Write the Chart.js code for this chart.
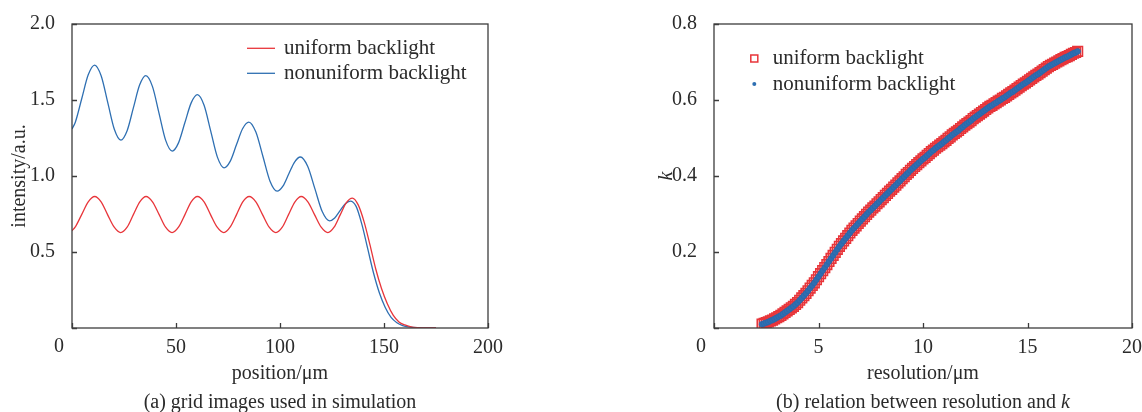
<!DOCTYPE html>
<html>
<head>
<meta charset="utf-8">
<script src="https://cdn.jsdelivr.net/npm/chart.js@4/dist/chart.umd.min.js"></script>
<style>
  html, body { margin: 0; padding: 0; background: #fff; }
  #wrap { position: relative; width: 1142px; height: 412px; overflow: hidden; }
  .panel { position: absolute; top: 0; width: 571px; height: 412px; }
  .caption { position: absolute; top: 390px; width: 500px; text-align: center;
             font: 20px "Liberation Serif", serif; color: #2b2b2b; line-height: 22px; }
</style>
</head>
<body>
<div id="wrap">
  <div class="panel" style="left:0"><canvas id="gridChart" width="571" height="412"></canvas></div>
  <div class="panel" style="left:571px"><canvas id="kChart" width="571" height="412"></canvas></div>
  <div class="caption" style="left:30px">(a) grid images used in simulation</div>
  <div class="caption" style="left:673px">(b) relation between resolution and <i>k</i></div>
</div>
<script>
// (a) intensity profiles along position
const posUniform = [0, 1.5, 4.65, 7.8, 10.9, 14.0, 17.1, 20.3, 23.4, 26.5, 29.5, 32.6, 35.6, 38.7, 41.9, 45.0,
  48.1, 51.2, 54.3, 57.3, 60.3, 63.5, 66.6, 69.8, 73.0, 76.0, 79.1, 82.1, 85.2, 88.4, 91.6, 94.8, 98.0,
  101.1, 104.1, 107.2, 110.2, 113.4, 116.6, 119.8, 123.0, 126.0, 129.0, 131.9, 134.8, 137.6, 140.4, 143.2,
  146.0, 148.8, 151.6, 154.4, 157.2, 160, 163, 166, 170, 175];
const uniformIntensity = [0.64, 0.663, 0.746, 0.83, 0.865, 0.83, 0.746, 0.663, 0.628, 0.663, 0.746, 0.83, 0.865,
  0.83, 0.746, 0.663, 0.628, 0.663, 0.746, 0.83, 0.865, 0.83, 0.746, 0.663, 0.628, 0.663, 0.746, 0.83, 0.865,
  0.83, 0.746, 0.663, 0.628, 0.663, 0.746, 0.83, 0.865, 0.83, 0.746, 0.663, 0.628, 0.663, 0.746, 0.825, 0.855,
  0.81, 0.70, 0.55, 0.39, 0.26, 0.16, 0.085, 0.04, 0.02, 0.008, 0.003, 0.001, 0];

const posNonuniform = [0, 1.6, 4.7, 7.8, 10.9, 14.05, 17.2, 20.35, 23.5, 26.5, 29.5, 32.5, 35.5, 38.7, 41.85, 45.0,
  48.2, 51.2, 54.25, 57.3, 60.3, 63.5, 66.7, 69.9, 73.1, 76.1, 79.05, 82.0, 85.0, 88.4, 91.8, 95.2, 98.6,
  101.4, 104.2, 107.0, 109.8, 113.3, 116.8, 120.3, 123.8, 126.3, 128.8, 131.3, 133.8, 136.6, 139.4, 142.2,
  145.0, 147.8, 150.6, 153.4, 156.2, 159, 162, 166, 170, 175];
const nonuniformIntensity = [1.31, 1.354, 1.51, 1.666, 1.73, 1.658, 1.483, 1.308, 1.236, 1.298, 1.448, 1.598, 1.66,
  1.588, 1.412, 1.236, 1.164, 1.218, 1.35, 1.481, 1.535, 1.465, 1.295, 1.124, 1.054, 1.098, 1.205, 1.311, 1.355,
  1.289, 1.128, 0.966, 0.90, 0.933, 1.013, 1.092, 1.125, 1.064, 0.915, 0.766, 0.705, 0.724, 0.77, 0.816, 0.835,
  0.80, 0.68, 0.52, 0.36, 0.23, 0.135, 0.07, 0.035, 0.016, 0.007, 0.002, 0.0005, 0];

// (b) k versus resolution (both backlights fall on the same curve)
const resolution = [
  2.3, 2.4, 2.5, 2.6, 2.7, 2.8, 2.9, 3.0, 3.1, 3.2, 3.3, 3.4, 3.5, 3.6, 3.7, 3.8, 3.9,
  4.0, 4.1, 4.2, 4.3, 4.4, 4.5, 4.6, 4.7, 4.8, 4.9, 5.0, 5.1, 5.2, 5.3, 5.4, 5.5, 5.6, 5.7, 5.8, 5.9,
  6.0, 6.1, 6.2, 6.3, 6.4, 6.5, 6.6, 6.7, 6.8, 6.9, 7.0, 7.1, 7.2, 7.3, 7.4, 7.5, 7.6, 7.7, 7.8, 7.9,
  8.0, 8.1, 8.2, 8.3, 8.4, 8.5, 8.6, 8.7, 8.8, 8.9, 9.0, 9.1, 9.2, 9.3, 9.4, 9.5, 9.6, 9.7, 9.8, 9.9,
  10.0, 10.1, 10.2, 10.3, 10.4, 10.5, 10.6, 10.7, 10.8, 10.9, 11.0, 11.1, 11.2, 11.3, 11.4, 11.5, 11.6, 11.7, 11.8, 11.9,
  12.0, 12.1, 12.2, 12.3, 12.4, 12.5, 12.6, 12.7, 12.8, 12.9, 13.0, 13.1, 13.2, 13.3, 13.4, 13.5, 13.6, 13.7, 13.8, 13.9,
  14.0, 14.1, 14.2, 14.3, 14.4, 14.5, 14.6, 14.7, 14.8, 14.9, 15.0, 15.1, 15.2, 15.3, 15.4, 15.5, 15.6, 15.7, 15.8, 15.9,
  16.0, 16.1, 16.2, 16.3, 16.4, 16.5, 16.6, 16.7, 16.8, 16.9, 17.0, 17.1, 17.2, 17.3, 17.4];
const kValues = [
  0.010, 0.012, 0.014, 0.016, 0.019, 0.021, 0.024, 0.027, 0.030, 0.033, 0.037, 0.041, 0.045, 0.049, 0.053, 0.057, 0.062,
  0.067, 0.073, 0.079, 0.085, 0.091, 0.098, 0.105, 0.112, 0.119, 0.127, 0.135, 0.143, 0.151, 0.159, 0.167, 0.175, 0.183, 0.191, 0.199, 0.207,
  0.215, 0.222, 0.229, 0.236, 0.243, 0.250, 0.257, 0.263, 0.269, 0.275, 0.281, 0.287, 0.293, 0.299, 0.305, 0.310, 0.316, 0.321, 0.327, 0.332,
  0.338, 0.343, 0.349, 0.354, 0.360, 0.365, 0.371, 0.376, 0.382, 0.387, 0.393, 0.398, 0.404, 0.409, 0.415, 0.420, 0.425, 0.430, 0.435, 0.440,
  0.445, 0.449, 0.454, 0.459, 0.464, 0.468, 0.473, 0.477, 0.481, 0.485, 0.490, 0.494, 0.499, 0.503, 0.508, 0.512, 0.516, 0.520, 0.525, 0.529,
  0.534, 0.538, 0.542, 0.546, 0.551, 0.555, 0.559, 0.563, 0.567, 0.571, 0.575, 0.579, 0.583, 0.586, 0.590, 0.593, 0.597, 0.600, 0.604, 0.607,
  0.611, 0.615, 0.619, 0.622, 0.626, 0.630, 0.634, 0.638, 0.642, 0.645, 0.649, 0.653, 0.657, 0.661, 0.665, 0.668, 0.672, 0.676, 0.680, 0.684,
  0.688, 0.691, 0.694, 0.697, 0.700, 0.703, 0.706, 0.709, 0.712, 0.714, 0.717, 0.720, 0.723, 0.725, 0.728];

const seriesLabels = ['uniform backlight', 'nonuniform backlight'];

const RED = '#e8353a';
const BLUE = '#2e6fb2';
const TEXT = '#2b2b2b';
const AXIS = '#3c3c3c';
const FONT = '"Liberation Serif", "Times New Roman", serif';

Chart.defaults.font.family = FONT;
Chart.defaults.font.size = 20;
Chart.defaults.color = TEXT;

const toPoints = (xs, ys) => xs.map((x, i) => ({ x: x, y: ys[i] }));

// frame box, inward ticks, shared origin "0" and an in-plot legend
const framePlugin = {
  id: 'frame',
  afterDatasetsDraw(chart, args, opts) {
    const { ctx, chartArea: a, scales } = chart;
    ctx.save();
    ctx.strokeStyle = AXIS;
    ctx.lineWidth = 1.3;
    ctx.strokeRect(a.left, a.top, a.right - a.left, a.bottom - a.top);

    ctx.beginPath();
    scales.x.ticks.forEach(t => {
      const px = Math.round(scales.x.getPixelForValue(t.value)) + 0.5;
      ctx.moveTo(px, a.bottom);
      ctx.lineTo(px, a.bottom - 5);
    });
    scales.y.ticks.forEach(t => {
      const py = Math.round(scales.y.getPixelForValue(t.value)) + 0.5;
      ctx.moveTo(a.left, py);
      ctx.lineTo(a.left + 5, py);
    });
    ctx.stroke();

    ctx.fillStyle = TEXT;
    ctx.font = '20px ' + FONT;
    ctx.textAlign = 'center';
    ctx.textBaseline = 'middle';
    ctx.fillText('0', a.left - 13, a.bottom + 19);

    ctx.font = '21px ' + FONT;
    ctx.textAlign = 'left';
    chart.data.datasets.forEach((ds, i) => {
      const y = a.top + opts.top + i * opts.gap;
      const mx = a.left + opts.markerX;
      if (opts.kind === 'line') {
        ctx.strokeStyle = ds.borderColor;
        ctx.lineWidth = 1.3;
        ctx.beginPath();
        ctx.moveTo(mx - 14, y);
        ctx.lineTo(mx + 14, y);
        ctx.stroke();
      } else if (ds.pointStyle === 'rect') {
        ctx.strokeStyle = ds.borderColor;
        ctx.lineWidth = 1.5;
        ctx.strokeRect(mx - 3.5, y - 3.5, 7, 7);
      } else {
        ctx.fillStyle = ds.backgroundColor;
        ctx.beginPath();
        ctx.arc(mx, y, 2, 0, Math.PI * 2);
        ctx.fill();
      }
      ctx.fillStyle = TEXT;
      ctx.fillText(ds.label, a.left + opts.textX, y);
    });
    ctx.restore();
  }
};

function axes(xMax, xStep, yMax, yStep, xTitle, yTitle, yWidth, yDigits) {
  return {
    x: {
      type: 'linear', min: 0, max: xMax,
      grid: { display: false }, border: { display: false },
      ticks: { stepSize: xStep, padding: 0, maxRotation: 0,
               callback: v => v === 0 ? '' : String(v) },
      title: { display: true, text: xTitle, padding: { top: 0, bottom: 26 } },
      afterFit: s => { s.height = 84; }
    },
    y: {
      type: 'linear', min: 0, max: yMax,
      grid: { display: false }, border: { display: false },
      ticks: { stepSize: yStep, padding: 9,
               callback: v => v === 0 ? '' : v.toFixed(yDigits) },
      title: yTitle,
      afterFit: s => { s.width = yWidth; }
    }
  };
}

new Chart(document.getElementById('gridChart'), {
  type: 'scatter',
  data: {
    datasets: [
      { label: seriesLabels[0], data: toPoints(posUniform, uniformIntensity), showLine: true,
        borderColor: RED, borderWidth: 1.3, pointRadius: 0, cubicInterpolationMode: 'monotone', order: 1 },
      { label: seriesLabels[1], data: toPoints(posNonuniform, nonuniformIntensity), showLine: true,
        borderColor: BLUE, borderWidth: 1.3, pointRadius: 0, cubicInterpolationMode: 'monotone', order: 2 }
    ]
  },
  options: {
    responsive: false, animation: false, devicePixelRatio: 1,
    layout: { padding: { top: 24, right: 83, bottom: 0, left: 0 } },
    scales: axes(200, 50, 2, 0.5, 'position/μm',
      { display: true, text: 'intensity/a.u.', padding: { top: 8, bottom: 0 } }, 72, 1),
    plugins: {
      legend: { display: false }, tooltip: { enabled: false },
      frame: { kind: 'line', top: 24.3, gap: 25, markerX: 189, textX: 212 }
    }
  },
  plugins: [framePlugin]
});

new Chart(document.getElementById('kChart'), {
  type: 'scatter',
  data: {
    datasets: [
      { label: seriesLabels[0], data: toPoints(resolution, kValues), pointStyle: 'rect',
        pointRadius: 6.8, borderColor: RED, borderWidth: 1.6, backgroundColor: 'rgba(0,0,0,0)', order: 2 },
      { label: seriesLabels[1], data: toPoints(resolution, kValues), pointStyle: 'circle',
        pointRadius: 2.9, borderColor: '#2a64a6', borderWidth: 0.6, backgroundColor: BLUE, order: 1 }
    ]
  },
  options: {
    responsive: false, animation: false, devicePixelRatio: 1,
    layout: { padding: { top: 24, right: 10, bottom: 0, left: 0 } },
    scales: axes(20, 5, 0.8, 0.2, 'resolution/μm',
      { display: true, text: 'k', font: { style: 'italic', size: 20 }, padding: { top: 84, bottom: 0 } }, 143, 1),
    plugins: {
      legend: { display: false }, tooltip: { enabled: false },
      frame: { kind: 'marker', top: 34.5, gap: 25.5, markerX: 40.3, textX: 58.7 }
    }
  },
  plugins: [framePlugin]
});
</script>
</body>
</html>
